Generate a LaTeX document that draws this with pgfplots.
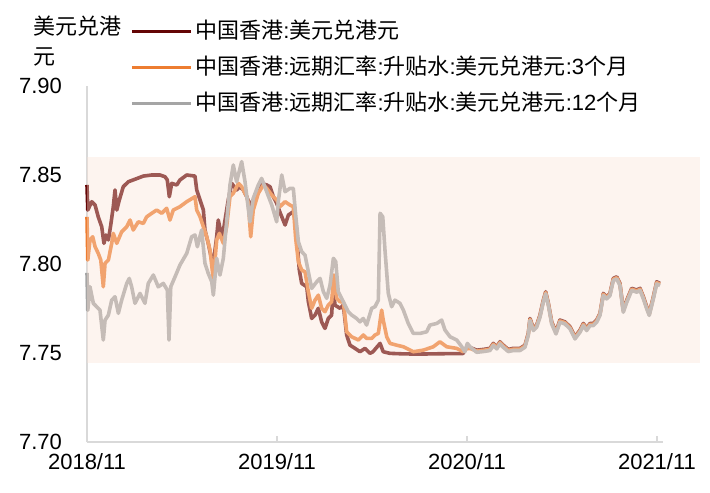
\documentclass[border=0pt]{standalone}
\usepackage{fontspec}
\setmainfont{Liberation Sans}
\newfontfamily\cjk{Noto Sans CJK SC}
\usepackage{pgfplots}
\pgfplotsset{compat=1.18}
\definecolor{cBrown}{RGB}{100,5,5}
\definecolor{cOrange}{RGB}{237,125,49}
\definecolor{cGray}{RGB}{165,165,165}
\definecolor{cBand}{RGB}{250,226,213}
\definecolor{cAxis}{RGB}{217,217,217}
\newcommand{\C}[1]{{\cjk #1}}
\begin{document}
\begin{tikzpicture}
\useasboundingbox (0,0) rectangle (355pt,246pt);
\begin{axis}[
  at={(43.5pt,25pt)}, anchor=south west,
  scale only axis, width=288pt, height=178pt,
  xmin=0, xmax=36.38, ymin=7.70, ymax=7.90,
  axis x line*=bottom, axis y line*=left,
  axis line style={draw=cAxis, line width=1pt, -},
  xtick={0,12,24,36}, xticklabels={2018/11,2019/11,2020/11,2021/11},
  ytick={7.70,7.75,7.80,7.85,7.90},
  /pgf/number format/assume math mode=true,
  yticklabel style={/pgf/number format/fixed, /pgf/number format/fixed zerofill, /pgf/number format/precision=2, xshift=-9pt},
  xticklabel style={yshift=-2pt},
  tick label style={font=\fontsize{11}{13}\selectfont, text=black},
  xtick style={draw=cAxis, line width=1pt},
  major tick length=3pt,
  ytick style={draw=none},
  clip=false,
  every axis y label/.style={at={(axis description cs:-0.0938,1.197)}, anchor=north west, align=left, inner sep=0pt, font=\fontsize{11}{15}\selectfont},
  ylabel={\C{美元兑港}\\\C{元}},
  legend style={draw=none, fill=none, at={(axis description cs:0.0747,1.206)}, anchor=north west, inner sep=0pt, row sep=0pt,
    font=\fontsize{11}{13}\selectfont, nodes={inner xsep=1.5pt, inner ysep=3.6pt}},
  legend cell align=left,
  legend image code/.code={\draw[#1, line width=1.5pt] (0pt,0pt) -- (29.5pt,0pt);},
  every axis plot/.append style={line width=1.8pt, line join=round},
]
\addplot[cBrown, no markers] coordinates {
(0.00,7.8444)(0.05,7.8303)(0.30,7.8350)(0.51,7.8331)(0.71,7.8265)(0.93,7.8209)(1.07,7.8116)(1.20,7.8163)(1.35,7.8135)(1.50,7.8219)(1.66,7.8322)(1.77,7.8416)(1.88,7.8303)(2.04,7.8359)(2.29,7.8434)(2.61,7.8462)(3.03,7.8476)(3.56,7.8494)(4.09,7.8500)(4.61,7.8500)(4.93,7.8490)(5.07,7.8472)(5.20,7.8378)(5.35,7.8453)(5.67,7.8444)(5.87,7.8472)(6.30,7.8500)(6.82,7.8494)(6.93,7.8416)(7.14,7.8359)(7.35,7.8303)(7.45,7.8191)(7.66,7.8116)(7.88,7.8022)(7.98,7.8004)(8.19,7.8153)(8.29,7.8247)(8.51,7.8153)(8.65,7.8209)(8.92,7.8359)(9.14,7.8453)(9.45,7.8416)(9.66,7.8434)(9.87,7.8416)(10.09,7.8378)(10.29,7.8331)(10.50,7.8359)(10.72,7.8406)(11.03,7.8453)(11.35,7.8444)(11.56,7.8434)(11.77,7.8378)(11.98,7.8341)(12.19,7.8290)(12.51,7.8219)(12.72,7.8275)(13.03,7.8294)(13.20,7.8228)(13.28,7.8116)(13.41,7.7966)(13.56,7.7891)(13.88,7.7872)(13.98,7.7788)(14.19,7.7694)(14.40,7.7713)(14.61,7.7751)(14.82,7.7675)(15.03,7.7638)(15.24,7.7694)(15.45,7.7713)(15.56,7.7882)(15.66,7.7769)(15.98,7.7751)(16.19,7.7769)(16.40,7.7601)(16.61,7.7544)(16.93,7.7526)(17.24,7.7507)(17.56,7.7526)(17.87,7.7498)(18.06,7.7507)(18.51,7.7554)(18.71,7.7507)(19.14,7.7498)(20.00,7.7495)(21.03,7.7494)(22.50,7.7496)(23.75,7.7497)(23.94,7.7528)(24.19,7.7531)(24.61,7.7516)(25.03,7.7520)(25.45,7.7526)(25.66,7.7554)(25.88,7.7535)(26.08,7.7563)(26.29,7.7544)(26.61,7.7520)(26.92,7.7526)(27.35,7.7526)(27.66,7.7544)(27.87,7.7610)(27.98,7.7694)(28.19,7.7638)(28.40,7.7657)(28.61,7.7713)(28.82,7.7797)(28.97,7.7844)(29.14,7.7779)(29.35,7.7675)(29.62,7.7619)(29.87,7.7685)(30.19,7.7675)(30.51,7.7647)(30.82,7.7591)(31.14,7.7629)(31.35,7.7666)(31.56,7.7638)(31.77,7.7666)(31.98,7.7666)(32.19,7.7685)(32.40,7.7723)(32.61,7.7835)(32.82,7.7816)(33.03,7.7835)(33.24,7.7919)(33.46,7.7928)(33.66,7.7891)(33.87,7.7741)(34.09,7.7797)(34.40,7.7863)(34.72,7.7854)(34.93,7.7863)(35.14,7.7816)(35.35,7.7760)(35.51,7.7723)(35.77,7.7816)(35.98,7.7900)(36.19,7.7891)
};
\addlegendentry{\C{中国香港}:\C{美元兑港元}}
\addplot[cOrange, no markers] coordinates {
(0.00,7.8265)(0.05,7.8022)(0.19,7.8135)(0.36,7.8153)(0.51,7.8097)(0.71,7.8060)(0.87,7.8022)(1.03,7.7872)(1.14,7.8004)(1.35,7.8022)(1.56,7.8116)(1.66,7.8172)(1.88,7.8116)(2.19,7.8181)(2.51,7.8209)(2.72,7.8247)(2.92,7.8191)(3.24,7.8237)(3.56,7.8228)(3.77,7.8265)(4.09,7.8285)(4.40,7.8303)(4.72,7.8285)(5.03,7.8313)(5.24,7.8247)(5.45,7.8303)(5.87,7.8322)(6.30,7.8350)(6.82,7.8378)(6.93,7.8303)(7.14,7.8265)(7.35,7.8209)(7.56,7.8153)(7.77,7.8078)(7.98,7.7910)(8.19,7.8135)(8.36,7.8172)(8.61,7.8116)(8.82,7.8209)(9.03,7.8378)(9.24,7.8397)(9.56,7.8453)(9.77,7.8434)(10.09,7.8378)(10.19,7.8341)(10.34,7.8153)(10.50,7.8303)(10.82,7.8397)(11.14,7.8444)(11.35,7.8425)(11.67,7.8387)(11.98,7.8359)(12.19,7.8322)(12.51,7.8350)(12.82,7.8331)(13.03,7.8322)(13.18,7.8144)(13.35,7.8013)(13.56,7.7966)(13.77,7.7956)(13.98,7.7844)(14.19,7.7751)(14.40,7.7797)(14.61,7.7825)(14.82,7.7751)(15.03,7.7732)(15.24,7.7769)(15.45,7.7788)(15.60,7.7938)(15.77,7.7807)(15.98,7.7788)(16.19,7.7788)(16.40,7.7619)(16.72,7.7591)(17.14,7.7573)(17.45,7.7601)(17.66,7.7582)(17.98,7.7582)(18.19,7.7601)(18.40,7.7610)(18.61,7.7741)(18.71,7.7685)(18.93,7.7591)(19.14,7.7554)(19.56,7.7544)(19.98,7.7535)(20.61,7.7507)(21.24,7.7516)(21.87,7.7535)(22.29,7.7563)(22.72,7.7535)(23.35,7.7526)(23.77,7.7507)(23.94,7.7523)(24.19,7.7526)(24.61,7.7511)(25.03,7.7515)(25.45,7.7521)(25.66,7.7549)(25.88,7.7530)(26.08,7.7558)(26.29,7.7539)(26.61,7.7515)(26.92,7.7521)(27.35,7.7521)(27.66,7.7539)(27.87,7.7605)(27.98,7.7689)(28.19,7.7633)(28.40,7.7652)(28.61,7.7708)(28.82,7.7792)(28.97,7.7839)(29.14,7.7774)(29.35,7.7670)(29.62,7.7614)(29.87,7.7680)(30.19,7.7670)(30.51,7.7642)(30.82,7.7586)(31.14,7.7624)(31.35,7.7661)(31.56,7.7633)(31.77,7.7661)(31.98,7.7661)(32.19,7.7680)(32.40,7.7718)(32.61,7.7830)(32.82,7.7811)(33.03,7.7830)(33.24,7.7914)(33.46,7.7923)(33.66,7.7886)(33.87,7.7736)(34.09,7.7792)(34.40,7.7858)(34.72,7.7849)(34.93,7.7858)(35.14,7.7811)(35.35,7.7755)(35.51,7.7718)(35.77,7.7811)(35.98,7.7895)(36.19,7.7886)
};
\addlegendentry{\C{中国香港}:\C{远期汇率}:\C{升贴水}:\C{美元兑港元}:3\C{个月}}
\addplot[cGray, no markers] coordinates {
(0.00,7.7950)(0.05,7.7740)(0.19,7.7872)(0.40,7.7779)(0.61,7.7760)(0.82,7.7741)(1.03,7.7573)(1.14,7.7685)(1.35,7.7713)(1.56,7.7797)(1.77,7.7816)(1.98,7.7723)(2.19,7.7797)(2.51,7.7891)(2.67,7.7919)(2.82,7.7872)(3.03,7.7779)(3.35,7.7835)(3.66,7.7779)(3.87,7.7891)(4.19,7.7938)(4.50,7.7872)(4.82,7.7891)(5.07,7.7854)(5.18,7.7573)(5.29,7.7872)(5.56,7.7928)(5.87,7.7994)(6.30,7.8060)(6.61,7.8153)(6.82,7.8163)(6.97,7.8097)(7.24,7.8191)(7.45,7.8004)(7.66,7.7947)(7.88,7.7900)(7.98,7.7825)(8.19,7.8032)(8.40,7.7938)(8.61,7.8032)(8.82,7.8237)(9.03,7.8444)(9.24,7.8556)(9.45,7.8462)(9.77,7.8575)(9.98,7.8462)(10.29,7.8237)(10.50,7.8369)(10.82,7.8444)(11.03,7.8481)(11.35,7.8406)(11.67,7.8331)(11.98,7.8237)(12.08,7.8350)(12.30,7.8500)(12.51,7.8406)(12.82,7.8425)(13.03,7.8425)(13.18,7.8275)(13.35,7.8125)(13.56,7.8069)(13.77,7.8050)(13.98,7.7956)(14.19,7.7863)(14.51,7.7900)(14.72,7.7919)(14.93,7.7844)(15.14,7.7807)(15.35,7.7882)(15.56,7.8032)(15.71,7.8013)(15.87,7.7844)(16.08,7.7807)(16.29,7.7769)(16.50,7.7732)(16.72,7.7713)(17.03,7.7694)(17.24,7.7675)(17.45,7.7694)(17.66,7.7657)(17.98,7.7751)(18.19,7.7760)(18.40,7.7797)(18.51,7.8285)(18.68,7.8265)(18.82,7.8078)(19.03,7.7835)(19.24,7.7760)(19.45,7.7797)(19.77,7.7779)(19.98,7.7741)(20.29,7.7666)(20.61,7.7610)(21.03,7.7610)(21.45,7.7619)(21.66,7.7657)(22.09,7.7666)(22.40,7.7685)(22.61,7.7629)(22.93,7.7591)(23.35,7.7573)(23.67,7.7535)(23.87,7.7507)(24.02,7.7554)(24.19,7.7535)(24.61,7.7504)(25.03,7.7508)(25.45,7.7514)(25.66,7.7542)(25.88,7.7523)(26.08,7.7551)(26.29,7.7532)(26.61,7.7508)(26.92,7.7514)(27.35,7.7514)(27.66,7.7532)(27.87,7.7598)(27.98,7.7682)(28.19,7.7626)(28.40,7.7645)(28.61,7.7701)(28.82,7.7785)(28.97,7.7832)(29.14,7.7767)(29.35,7.7663)(29.62,7.7607)(29.87,7.7673)(30.19,7.7663)(30.51,7.7635)(30.82,7.7579)(31.14,7.7617)(31.35,7.7654)(31.56,7.7626)(31.77,7.7654)(31.98,7.7654)(32.19,7.7673)(32.40,7.7711)(32.61,7.7823)(32.82,7.7804)(33.03,7.7823)(33.24,7.7907)(33.46,7.7916)(33.66,7.7879)(33.87,7.7729)(34.09,7.7785)(34.40,7.7851)(34.72,7.7842)(34.93,7.7851)(35.14,7.7804)(35.35,7.7748)(35.51,7.7711)(35.77,7.7804)(35.98,7.7888)(36.19,7.7879)
};
\addlegendentry{\C{中国香港}:\C{远期汇率}:\C{升贴水}:\C{美元兑港元}:12\C{个月}}
\fill[cBand, fill opacity=0.38] (axis cs:0,7.7443) rectangle (axis cs:38.72,7.8601);
\end{axis}
\end{tikzpicture}
\end{document}
